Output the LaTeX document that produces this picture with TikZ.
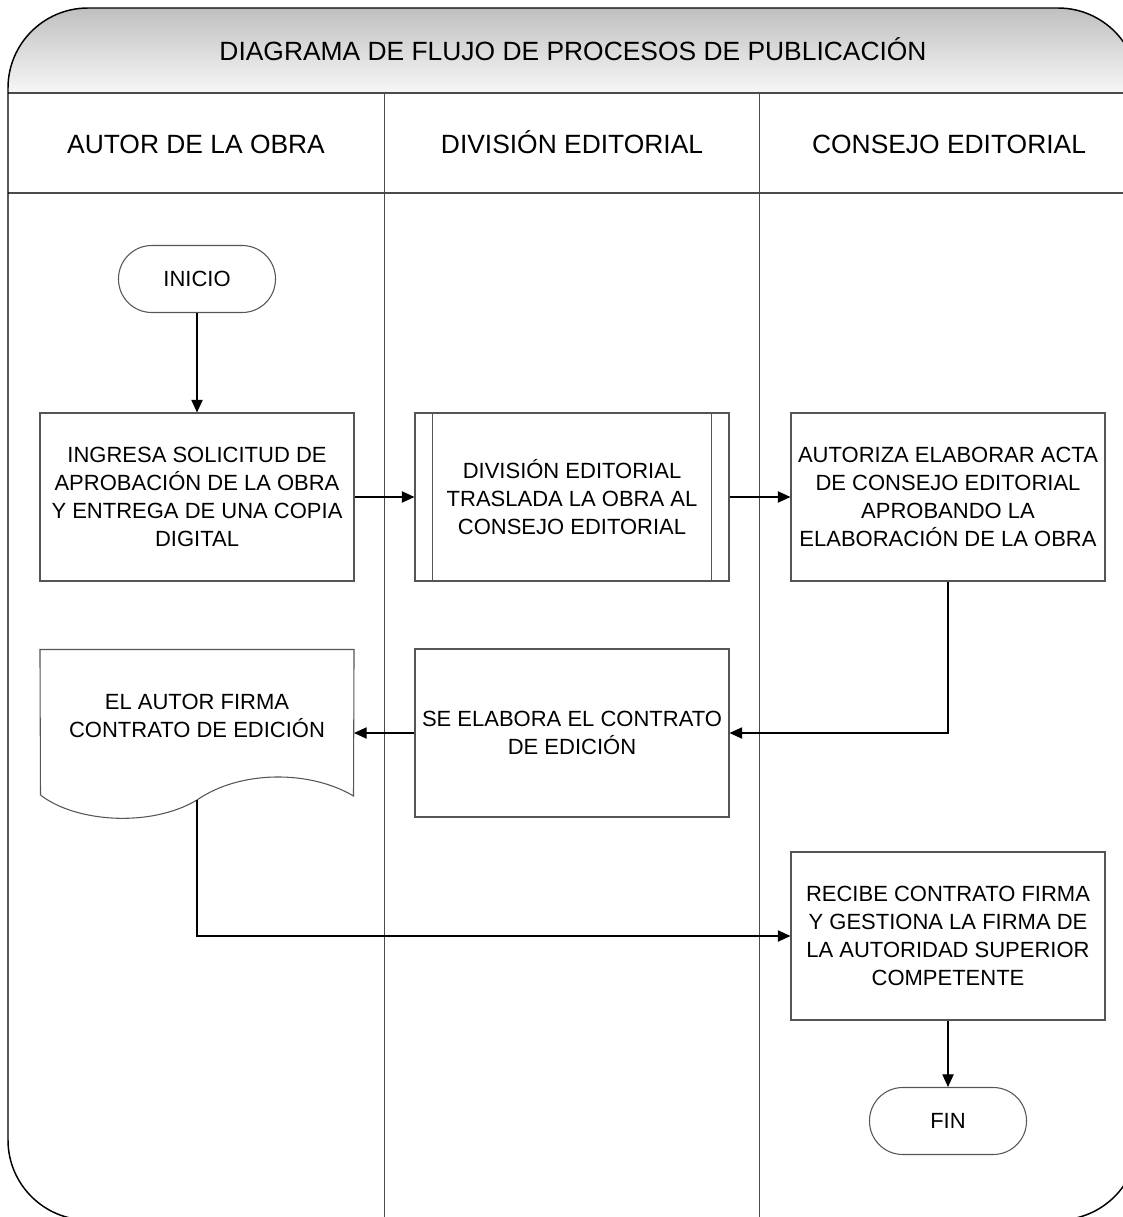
\documentclass[tikz,border=0pt]{standalone}
\usepackage{fontspec}
\setmainfont{Liberation Sans}
\usetikzlibrary{arrows.meta,calc}
\definecolor{linegray}{HTML}{555555}
\definecolor{lanegray}{HTML}{4A4A4A}
\newcommand\myBody{\fontsize{16.5pt}{21.2pt}\selectfont}
\newcommand\myHead{\fontsize{19.8pt}{24pt}\selectfont}
\begin{document}
\begin{tikzpicture}[x=0.75pt,y=-0.75pt,
  box/.style={draw=linegray, line width=0.8pt, minimum width=235.5pt, minimum height=126pt, inner sep=1pt, align=center, font=\myBody},
  term/.style={draw=linegray, line width=0.8pt, rounded corners=25pt, minimum width=117.75pt, minimum height=50.25pt, inner sep=1pt, align=center, font=\myBody},
  arr/.style={draw=black, line width=0.9pt, -{Triangle[length=9.5pt,width=8.5pt]}},
  lane/.style={draw=lanegray, line width=0.9pt},
  head/.style={font=\myHead, inner sep=0pt, anchor=base}
]
\useasboundingbox (0,0) rectangle (1123,1217);
\begin{scope}
\clip (0,0) rectangle (1123,1217);
% title shading
\begin{scope}
\clip[rounded corners=60pt] (8,8) rectangle (1138,1220);
\shade[top color=black!25, bottom color=black!3] (0,8) rectangle (1140,93);
\end{scope}
% grid
\draw[lane] (8,93) -- (1138,93);
\draw[lane] (8,193) -- (1138,193);
\draw[lane] (384.5,93) -- (384.5,1220);
\draw[lane] (759.5,93) -- (759.5,1220);
% frame
\draw[line width=1.1pt, rounded corners=60pt] (8,8) rectangle (1138,1220);

% headers
\node[head] (title) at (573,60) {DIAGRAMA DE FLUJO DE PROCESOS DE PUBLICACIÓN};
\node[head] (h1) at (196,153) {AUTOR DE LA OBRA};
\node[head] (h2) at (572,153) {DIVISIÓN EDITORIAL};
\node[head] (h3) at (949,153) {CONSEJO EDITORIAL};

% nodes
\node[term] (inicio) at (197,279) {INICIO};
\node[box] (b1) at (197,497) {INGRESA SOLICITUD DE\\APROBACIÓN DE LA OBRA\\Y ENTREGA DE UNA COPIA\\DIGITAL};
\node[box] (b2) at (572,497) {DIVISIÓN EDITORIAL\\TRASLADA LA OBRA AL\\CONSEJO EDITORIAL};
\draw[draw=linegray, line width=0.8pt] ($(b2.north west)+(18,0)$) -- ($(b2.south west)+(18,0)$);
\draw[draw=linegray, line width=0.8pt] ($(b2.north east)+(-18,0)$) -- ($(b2.south east)+(-18,0)$);
\node[box] (b3) at (948,497) {AUTORIZA ELABORAR ACTA\\DE CONSEJO EDITORIAL\\APROBANDO LA\\ELABORACIÓN DE LA OBRA};
\node[box] (b4) at (572,733) {SE ELABORA EL CONTRATO\\DE EDICIÓN};
\node[box, draw=none, minimum width=234.75pt, minimum height=99pt] (doc) at (197,716) {EL AUTOR FIRMA\\CONTRATO DE EDICIÓN};
\draw[draw=linegray, line width=0.8pt] (doc.north west) -- (doc.north east) -- (353.5,796)
  .. controls (310,770) and (240,770) .. (197,800)
  .. controls (150,828) and (75,822) .. (40.5,795) -- cycle;
\coordinate (docout) at (197,800);
\node[box] (b5) at (948,936) {RECIBE CONTRATO FIRMA\\Y GESTIONA LA FIRMA DE\\LA AUTORIDAD SUPERIOR\\COMPETENTE};
\node[term] (fin) at (948,1121) {FIN};

% connectors
\draw[arr] (inicio.south) -- (b1.north);
\draw[arr] (b1.east) -- (b2.west);
\draw[arr] (b2.east) -- (b3.west);
\draw[arr] (b3.south) |- (b4.east);
\draw[arr] (b4.west) -- (b4.west -| doc.east);
\draw[arr] (docout) |- (b5.west);
\draw[arr] (b5.south) -- (fin.north);
\end{scope}
\end{tikzpicture}
\end{document}
